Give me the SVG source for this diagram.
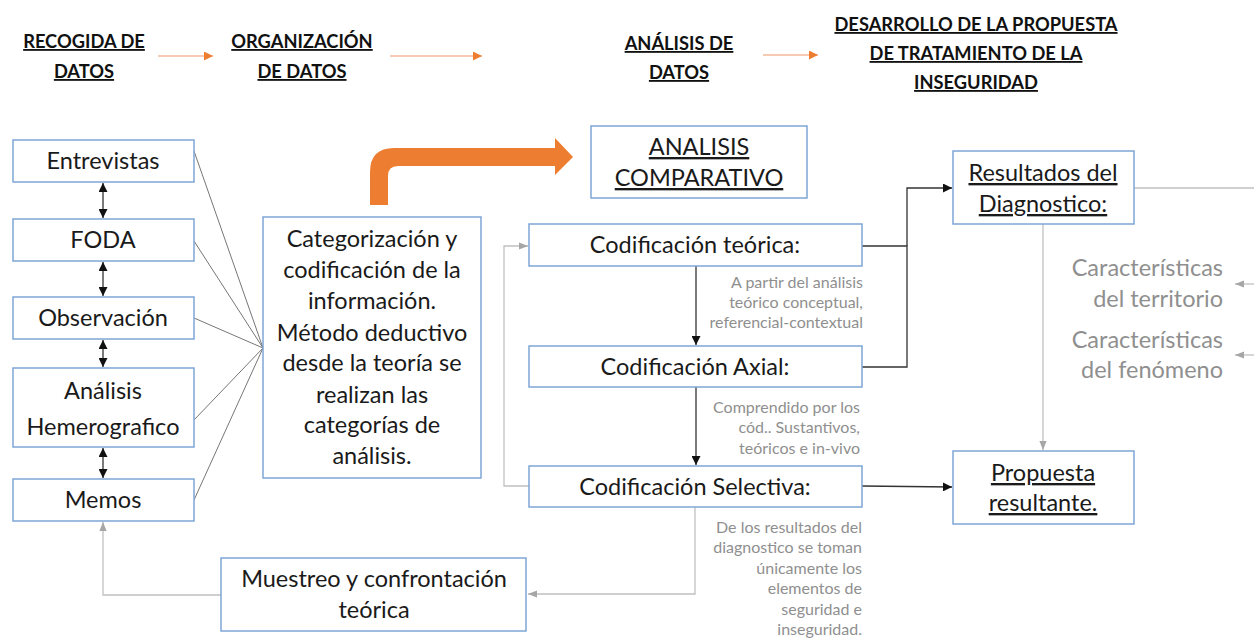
<svg xmlns="http://www.w3.org/2000/svg" width="1254" height="639" viewBox="0 0 1254 639">
<style>
  .box { fill: #ffffff; stroke: #7ea6d6; stroke-width: 1.5; }
  .t { font-family: Lato, "Liberation Sans", sans-serif; fill: #1a1a1a; }
  .hd { font-family: Lato, "Liberation Sans", sans-serif; font-weight: bold; font-size: 18.3px; fill: #111; text-decoration: underline; }
  .big { font-size: 23.5px; }
  .mid { font-size: 23.5px; }
  .gray { font-family: Lato, "Liberation Sans", sans-serif; fill: #8f8f8f; }
  .small { font-size: 16px; }
  .u { text-decoration: underline; }
  .blk { stroke: #333; stroke-width: 1.3; fill: none; }
  .thin { stroke: #666; stroke-width: 0.9; fill: none; }
  .gry { stroke: #c0c0c0; stroke-width: 1.3; fill: none; }
  .org { stroke: #f4b89a; stroke-width: 1.5; fill: none; }
</style>
<defs>
  <marker id="ab" viewBox="0 0 10 10" refX="10" refY="5" markerWidth="9" markerHeight="9" markerUnits="userSpaceOnUse" orient="auto-start-reverse">
    <path d="M0,0 L10,5 L0,10 Z" fill="#111"/>
  </marker>
  <marker id="ag" viewBox="0 0 10 10" refX="10" refY="5" markerWidth="9" markerHeight="9" markerUnits="userSpaceOnUse" orient="auto">
    <path d="M0,1 L10,5 L0,9 Z" fill="#a6a6a6"/>
  </marker>
  <marker id="ao" viewBox="0 0 10 10" refX="10" refY="5" markerWidth="9" markerHeight="9" markerUnits="userSpaceOnUse" orient="auto">
    <path d="M0,0 L10,5 L0,10 Z" fill="#ed7d31"/>
  </marker>
</defs>

<!-- headers -->
<g id="headers">
  <text class="hd" x="84" y="48" text-anchor="middle">RECOGIDA DE</text>
  <text class="hd" x="84" y="78" text-anchor="middle">DATOS</text>
  <text class="hd" x="302" y="48" text-anchor="middle">ORGANIZACIÓN</text>
  <text class="hd" x="302" y="78" text-anchor="middle">DE DATOS</text>
  <text class="hd" x="679" y="50" text-anchor="middle">ANÁLISIS DE</text>
  <text class="hd" x="679" y="79" text-anchor="middle">DATOS</text>
  <text class="hd" x="976" y="31" text-anchor="middle">DESARROLLO DE LA PROPUESTA</text>
  <text class="hd" x="976" y="60" text-anchor="middle">DE TRATAMIENTO DE LA</text>
  <text class="hd" x="976" y="89" text-anchor="middle">INSEGURIDAD</text>
</g>

<!-- connectors -->
<g id="connectors">
  <line class="org" x1="158" y1="56" x2="213" y2="56" marker-end="url(#ao)"/>
  <line class="org" x1="390" y1="56" x2="482" y2="56" marker-end="url(#ao)"/>
  <line class="org" x1="763" y1="55" x2="818" y2="55" marker-end="url(#ao)"/>

  <line class="blk" x1="103" y1="183" x2="103" y2="218" marker-start="url(#ab)" marker-end="url(#ab)"/>
  <line class="blk" x1="103" y1="262" x2="103" y2="296" marker-start="url(#ab)" marker-end="url(#ab)"/>
  <line class="blk" x1="103" y1="340" x2="103" y2="367" marker-start="url(#ab)" marker-end="url(#ab)"/>
  <line class="blk" x1="103" y1="448" x2="103" y2="478" marker-start="url(#ab)" marker-end="url(#ab)"/>

  <line class="thin" x1="194" y1="151" x2="263" y2="348"/>
  <line class="thin" x1="194" y1="241" x2="263" y2="348"/>
  <line class="thin" x1="194" y1="318" x2="263" y2="348"/>
  <line class="thin" x1="194" y1="420" x2="263" y2="348"/>
  <line class="thin" x1="194" y1="500" x2="263" y2="348"/>

  <path d="M370,205 L370,172 Q370,148 394,148 L555,148 L555,138 L573,157 L555,175 L555,166 L398,166 Q388,166 388,176 L388,205 Z" fill="#ed7d31"/>

  <line class="blk" x1="696" y1="266" x2="696" y2="345" marker-end="url(#ab)"/>
  <line class="blk" x1="696" y1="387" x2="696" y2="465" marker-end="url(#ab)"/>

  <path class="blk" d="M862,246 L907,246 L907,367 L862,367"/>
  <path class="blk" d="M907,246 L907,188 L952,188" marker-end="url(#ab)"/>
  <line class="blk" x1="862" y1="486" x2="952" y2="487" marker-end="url(#ab)"/>

  <path class="gry" d="M529,486 L504,486 L504,246 L528,246" marker-end="url(#ag)"/>
  <path class="gry" d="M695,507 L695,594 L528,594" marker-end="url(#ag)"/>
  <path class="gry" d="M221,595 L103,595 L103,522" marker-end="url(#ag)"/>

  <line class="gry" x1="1043" y1="224" x2="1043" y2="450" marker-end="url(#ag)"/>
  <line class="gry" x1="1134" y1="188" x2="1254" y2="188"/>
  <line class="gry" x1="1254" y1="284" x2="1235" y2="284" marker-end="url(#ag)"/>
  <line class="gry" x1="1254" y1="355" x2="1235" y2="355" marker-end="url(#ag)"/>
</g>

<!-- left column -->
<g id="entrevistas">
  <rect class="box" x="13" y="140" width="181" height="42"/>
  <text class="t mid" x="103" y="169" text-anchor="middle">Entrevistas</text>
</g>
<g id="foda">
  <rect class="box" x="13" y="219" width="181" height="42"/>
  <text class="t mid" x="103" y="248" text-anchor="middle">FODA</text>
</g>
<g id="observacion">
  <rect class="box" x="13" y="297" width="181" height="42"/>
  <text class="t mid" x="103" y="326" text-anchor="middle">Observación</text>
</g>
<g id="analisis-hemerografico">
  <rect class="box" x="13" y="368" width="181" height="79"/>
  <text class="t mid" x="103" y="399" text-anchor="middle">Análisis</text>
  <text class="t mid" x="103" y="435" text-anchor="middle">Hemerografico</text>
</g>
<g id="memos">
  <rect class="box" x="13" y="479" width="181" height="42"/>
  <text class="t mid" x="103" y="508" text-anchor="middle">Memos</text>
</g>

<g id="categorizacion">
  <rect class="box" x="263" y="217" width="218" height="261"/>
  <text class="t big" x="372" y="247" text-anchor="middle">Categorización y</text>
  <text class="t big" x="372" y="278" text-anchor="middle">codificación de la</text>
  <text class="t big" x="372" y="309" text-anchor="middle">información.</text>
  <text class="t big" x="372" y="341" text-anchor="middle">Método deductivo</text>
  <text class="t big" x="372" y="371" text-anchor="middle">desde la teoría se</text>
  <text class="t big" x="372" y="403" text-anchor="middle">realizan las</text>
  <text class="t big" x="372" y="433" text-anchor="middle">categorías de</text>
  <text class="t big" x="372" y="464" text-anchor="middle">análisis.</text>
</g>

<g id="analisis-comparativo">
  <rect class="box" x="591" y="126" width="216" height="72"/>
  <text class="t big u" x="699" y="155" text-anchor="middle">ANALISIS</text>
  <text class="t big u" x="699" y="186" text-anchor="middle">COMPARATIVO</text>
</g>

<g id="cod-teorica">
  <rect class="box" x="529" y="224" width="333" height="42"/>
  <text class="t big" x="695" y="253" text-anchor="middle">Codificación teórica:</text>
</g>
<g id="label-teorica">
  <text class="gray small" x="863" y="288" text-anchor="end">A partir del análisis</text>
  <text class="gray small" x="863" y="308" text-anchor="end">teórico conceptual,</text>
  <text class="gray small" x="863" y="328" text-anchor="end">referencial-contextual</text>
</g>
<g id="cod-axial">
  <rect class="box" x="529" y="346" width="333" height="41"/>
  <text class="t big" x="695" y="375" text-anchor="middle">Codificación Axial:</text>
</g>
<g id="label-axial">
  <text class="gray small" x="860" y="413" text-anchor="end">Comprendido por los</text>
  <text class="gray small" x="860" y="433" text-anchor="end">cód.. Sustantivos,</text>
  <text class="gray small" x="860" y="454" text-anchor="end">teóricos e in-vivo</text>
</g>
<g id="cod-selectiva">
  <rect class="box" x="529" y="466" width="333" height="41"/>
  <text class="t big" x="695" y="495" text-anchor="middle">Codificación Selectiva:</text>
</g>
<g id="label-selectiva">
  <text class="gray small" x="862" y="533" text-anchor="end">De los resultados del</text>
  <text class="gray small" x="862" y="553" text-anchor="end">diagnostico se toman</text>
  <text class="gray small" x="862" y="574" text-anchor="end">únicamente los</text>
  <text class="gray small" x="862" y="594" text-anchor="end">elementos de</text>
  <text class="gray small" x="862" y="615" text-anchor="end">seguridad e</text>
  <text class="gray small" x="862" y="635" text-anchor="end">inseguridad.</text>
</g>

<g id="muestreo">
  <rect class="box" x="221" y="558" width="305" height="73"/>
  <text class="t big" x="374" y="587" text-anchor="middle">Muestreo y confrontación</text>
  <text class="t big" x="374" y="618" text-anchor="middle">teórica</text>
</g>

<g id="resultados">
  <rect class="box" x="953" y="151" width="181" height="73"/>
  <text class="t big u" x="1043" y="181" text-anchor="middle">Resultados del</text>
  <text class="t big u" x="1043" y="212" text-anchor="middle">Diagnostico:</text>
</g>
<g id="caracteristicas">
  <text class="gray big" x="1223" y="276" text-anchor="end">Características</text>
  <text class="gray big" x="1223" y="307" text-anchor="end">del territorio</text>
  <text class="gray big" x="1223" y="348" text-anchor="end">Características</text>
  <text class="gray big" x="1223" y="378" text-anchor="end">del fenómeno</text>
</g>
<g id="propuesta">
  <rect class="box" x="953" y="451" width="181" height="73"/>
  <text class="t big u" x="1043" y="481" text-anchor="middle">Propuesta</text>
  <text class="t big u" x="1043" y="511" text-anchor="middle">resultante.</text>
</g>
</svg>
